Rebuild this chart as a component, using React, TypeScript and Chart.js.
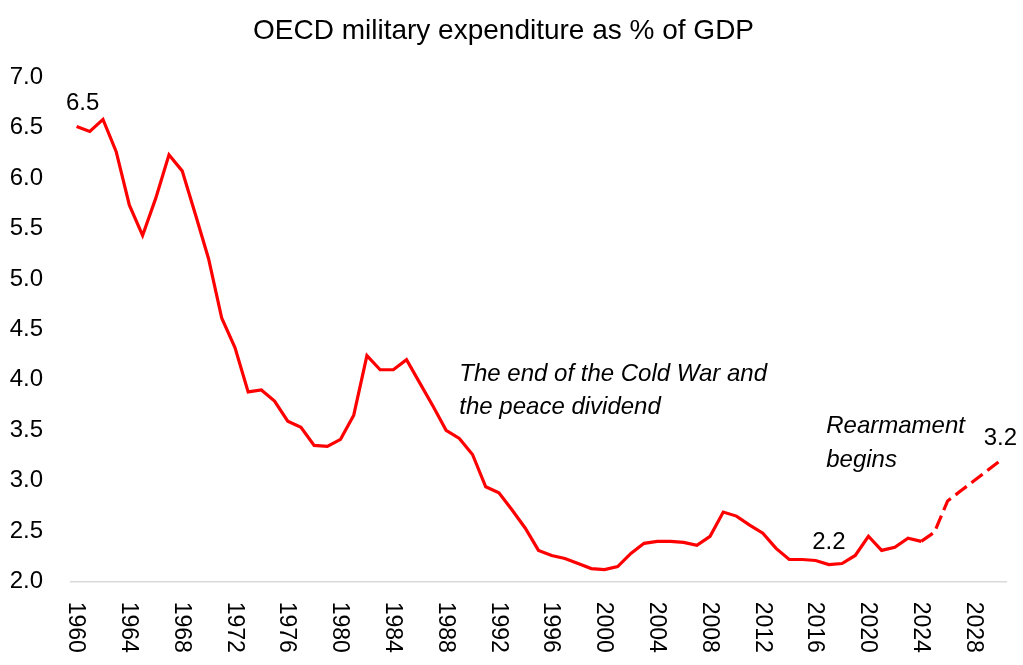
import React, { useEffect, useRef } from 'react';
import { Chart, registerables } from 'chart.js';

Chart.register(...registerables);

// OECD military expenditure, % of GDP (2025-2030 projected)
const years: string[] = [];
for (let y = 1960; y <= 2030; y++) years.push(String(y));

const spending = [
  6.51, 6.46, 6.58, 6.26, 5.73, 5.43, 5.80, 6.23, 6.07, 5.64,
  5.20, 4.61, 4.32, 3.88, 3.90, 3.79, 3.59, 3.53, 3.35, 3.34,
  3.41, 3.65, 4.24, 4.10, 4.10, 4.20, 3.97, 3.74, 3.50, 3.42,
  3.26, 2.94, 2.88, 2.71, 2.53, 2.31, 2.26, 2.23, 2.18, 2.13,
  2.12, 2.15, 2.28, 2.38, 2.40, 2.40, 2.39, 2.36, 2.45, 2.69,
  2.65, 2.56, 2.48, 2.33, 2.22, 2.22, 2.21, 2.17, 2.18, 2.26,
  2.45, 2.31, 2.34, 2.43, 2.40, 2.49, 2.80, 2.90, 3.00, 3.10,
  3.20,
];

const projectionStart = 64; // index of 2024, dashed from here on
const labelledPoints = [0, 57, 70];
const yTicks = { min: 2, max: 7, step: 0.5 };

// text notes anchored to (category index, value) of the baseline's start
const notes = [
  { lines: ['The end of the Cold War and', 'the peace dividend'], at: 29, value: 3.99 },
  { lines: ['Rearmament', 'begins'], at: 56.8, value: 3.47 },
];

const FONT = '"Liberation Sans", Arial, sans-serif';

const annotations = {
  id: 'annotations',
  afterDraw(chart: any) {
    const { ctx, scales } = chart;
    const x = scales.x;
    const y = scales.y;
    ctx.save();
    ctx.fillStyle = '#000';

    // x tick labels, rotated clockwise (read top to bottom)
    ctx.font = `23px ${FONT}`;
    ctx.textAlign = 'left';
    ctx.textBaseline = 'middle';
    x.ticks.forEach((t: any, i: number) => {
      if (!t.label) return;
      ctx.save();
      ctx.translate(x.getPixelForTick(i) - 1, x.top + 20);
      ctx.rotate(Math.PI / 2);
      ctx.fillText(t.label, 0, 0);
      ctx.restore();
    });

    // data labels
    ctx.font = `24px ${FONT}`;
    ctx.textAlign = 'center';
    ctx.textBaseline = 'alphabetic';
    labelledPoints.forEach((i) => {
      const px = x.getPixelForValue(i) + (i === 0 ? 6 : 0);
      const py = y.getPixelForValue(spending[i]) - 16;
      ctx.fillText(spending[i].toFixed(1), px, py);
    });

    // italic notes
    ctx.font = `italic 24px ${FONT}`;
    ctx.textAlign = 'left';
    notes.forEach((n) => {
      const px = x.getPixelForValue(n.at);
      const py = y.getPixelForValue(n.value);
      n.lines.forEach((line, k) => ctx.fillText(line, px, py + k * 33.5));
    });
    ctx.restore();
  },
};

export default function App() {
  const canvasRef = useRef<HTMLCanvasElement | null>(null);

  useEffect(() => {
    if (!canvasRef.current) return;
    const chart = new Chart(canvasRef.current, {
      type: 'line',
      data: {
        labels: years,
        datasets: [
          {
            data: spending,
            borderColor: '#ff0000',
            borderWidth: 3.2,
            pointRadius: 0,
            tension: 0,
            segment: {
              borderDash: (c: any) => (c.p0DataIndex >= projectionStart ? [14, 6] : undefined),
            },
          },
        ],
      },
      options: {
        responsive: false,
        animation: false,
        layout: { padding: { left: 0, right: 16, top: 0, bottom: 0 } },
        plugins: {
          legend: { display: false },
          tooltip: { enabled: false },
          title: {
            display: true,
            text: 'OECD military expenditure as % of GDP',
            color: '#000',
            font: { family: FONT, size: 28, weight: 'normal', lineHeight: 1.2 },
            padding: { top: 14, bottom: 29.4 },
          },
        },
        scales: {
          x: {
            offset: true,
            grid: { display: false },
            border: { display: false },
            ticks: {
              autoSkip: false,
              minRotation: 0,
              maxRotation: 0,
              color: 'transparent',
              font: { family: FONT, size: 23 },
              callback: (_v: any, i: number) => ((Number(years[i]) - 1960) % 4 === 0 ? years[i] : ''),
            },
            afterFit: (s: any) => {
              s.height = 83.3;
            },
          },
          y: {
            min: yTicks.min,
            max: yTicks.max,
            border: { display: false },
            grid: {
              drawTicks: false,
              lineWidth: 1.5,
              color: (c: any) => (c.tick && c.tick.value === yTicks.min ? '#d9d9d9' : 'transparent'),
            },
            ticks: {
              stepSize: yTicks.step,
              padding: 27,
              color: '#000',
              font: { family: FONT, size: 24 },
              callback: (v: any) => Number(v).toFixed(1),
            },
            afterFit: (s: any) => {
              s.width = 70;
            },
          },
        },
      },
      plugins: [annotations],
    });
    return () => chart.destroy();
  }, []);

  return (
    <div style={{ position: 'fixed', left: 0, top: 0, width: 1023, height: 665, background: '#fff' }}>
      <canvas ref={canvasRef} width={1023} height={665} />
    </div>
  );
}
